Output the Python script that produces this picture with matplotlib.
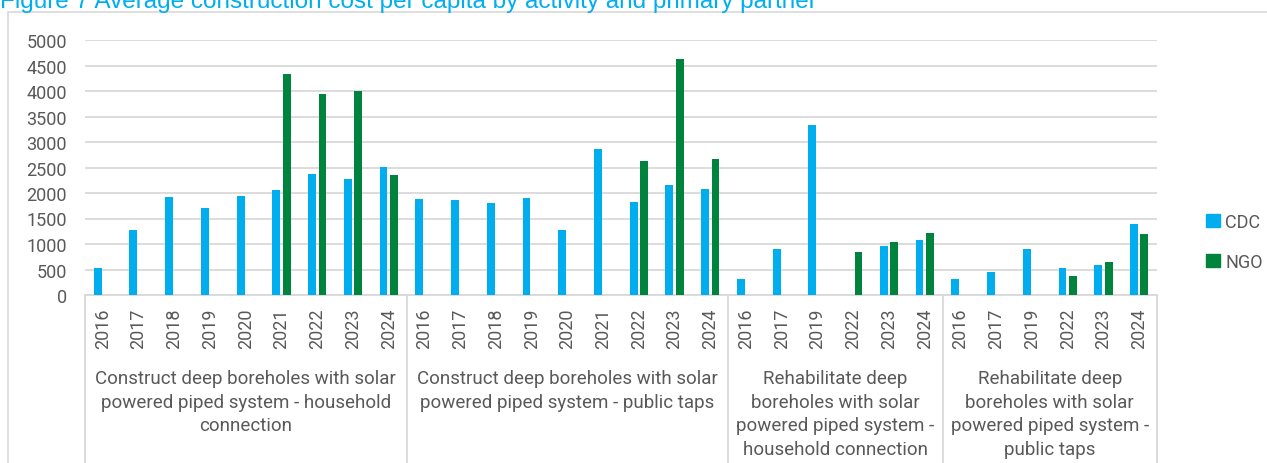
import numpy as np
import matplotlib.pyplot as plt
from matplotlib.patches import Rectangle, Patch
from matplotlib.transforms import blended_transform_factory

plt.rcParams['font.family'] = ['Roboto', 'DejaVu Sans']

# data
groups = [
    "Construct deep boreholes with solar\npowered piped system - household\nconnection",
    "Construct deep boreholes with solar\npowered piped system - public taps",
    "Rehabilitate deep\nboreholes with solar\npowered piped system -\nhousehold connection",
    "Rehabilitate deep\nboreholes with solar\npowered piped system -\npublic taps",
]
years_g1 = ["2016", "2017", "2018", "2019", "2020", "2021", "2022", "2023", "2024"]
years_g2 = ["2016", "2017", "2018", "2019", "2020", "2021", "2022", "2023", "2024"]
years_g3 = ["2016", "2017", "2019", "2022", "2023", "2024"]
years_g4 = ["2016", "2017", "2019", "2022", "2023", "2024"]

nan = np.nan
cdc = [520, 1270, 1930, 1710, 1950, 2060, 2370, 2270, 2510,
       1890, 1860, 1800, 1900, 1270, 2860, 1820, 2150, 2070,
       315, 905, 3330, nan, 970, 1085,
       305, 460, 900, 525, 590, 1385]
ngo = [nan, nan, nan, nan, nan, 4330, 3945, 4000, 2350,
       nan, nan, nan, nan, nan, nan, 2625, 4625, 2665,
       nan, nan, nan, 835, 1045, 1220,
       nan, nan, nan, 380, 655, 1200]

labels = years_g1 + years_g2 + years_g3 + years_g4
sizes = [len(years_g1), len(years_g2), len(years_g3), len(years_g4)]

blue = "#00AEEF"
green = "#00843D"
grey = "#595959"
grid = "#D9D9D9"

fig = plt.figure(figsize=(12.67, 4.64), dpi=100)
ax = fig.add_axes([85 / 1267, 1 - 296 / 464, (1157 - 85) / 1267, 255 / 464])

# outer chart border and cut-off title
fig.patches.append(Rectangle((8 / 1267, -0.1), 1.2, 1 - 12.5 / 464 + 0.1,
                             transform=fig.transFigure, fill=False,
                             edgecolor=grid, linewidth=1.2))
fig.text(0.0, 1 - 8 / 464, "Figure 7 Average construction cost per capita by activity and primary partner",
         color=blue, fontsize=17.5, family=['Liberation Sans', 'DejaVu Sans'],
         va='baseline', ha='left')

x = np.arange(len(labels))
w = 0.22
ax.bar(x - 0.145, cdc, w, color=blue, label="CDC", zorder=3)
ax.bar(x + 0.145, ngo, w, color=green, label="NGO", zorder=3)

ax.set_xlim(-0.5, len(labels) - 0.5)
ax.set_ylim(0, 5000)
ax.set_yticks(np.arange(0, 5001, 500))
ax.yaxis.grid(True, color=grid, linewidth=1.3, zorder=0)
ax.set_axisbelow(True)
for s in ["top", "right", "left"]:
    ax.spines[s].set_visible(False)
ax.spines["bottom"].set_color(grid)
ax.spines["bottom"].set_linewidth(1.3)
ax.tick_params(axis='y', length=0, pad=13, labelsize=13, labelcolor=grey)
ax.set_xticks(x)
ax.set_xticklabels(labels, rotation=90)
ax.tick_params(axis='x', length=0, pad=9, labelsize=13, labelcolor=grey)

# group separators and group labels
trans = blended_transform_factory(ax.transData, ax.transAxes)
start = 0
edges = [-0.5]
for g, n in zip(groups, sizes):
    center = start + (n - 1) / 2
    ax.text(center, -0.29, g, transform=trans, ha='center', va='top',
            fontsize=13.5, color=grey, linespacing=1.4)
    start += n
    edges.append(start - 0.5)
for e in edges:
    ax.plot([e, e], [0, -0.7], transform=trans, color=grid, linewidth=1.3,
            clip_on=False)

handles = [Patch(color=blue, label="CDC"), Patch(color=green, label="NGO")]
leg = fig.legend(handles=handles, loc='center left',
                 bbox_to_anchor=(1190 / 1267, 1 - 243 / 464), frameon=False,
                 handlelength=0.75, handleheight=0.75, handletextpad=0.3,
                 labelspacing=1.2, fontsize=13)
for t in leg.get_texts():
    t.set_color(grey)

fig.savefig("out.png", dpi=100)
